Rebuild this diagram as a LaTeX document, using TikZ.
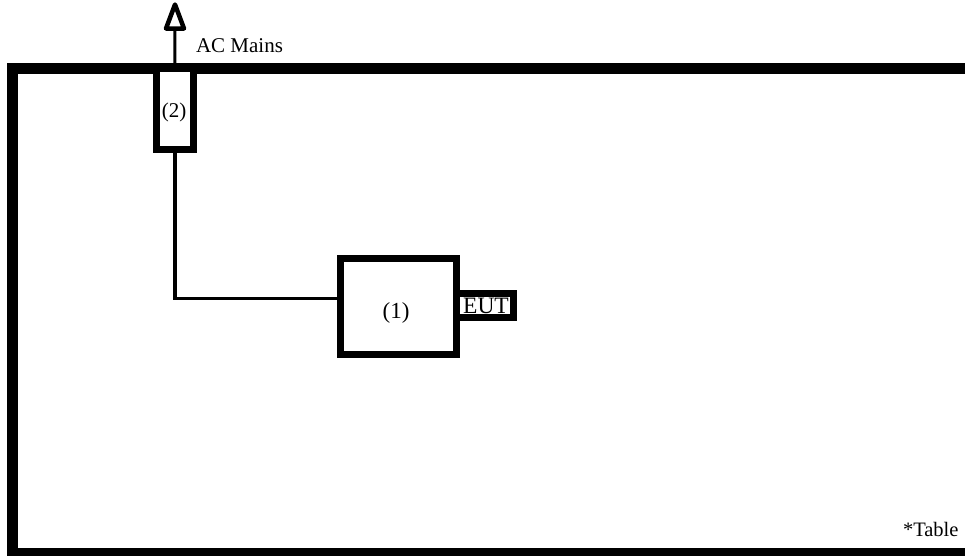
\documentclass[tikz,border=0pt]{standalone}
\usepackage{fontspec}
\setmainfont{Liberation Serif}
\begin{document}
\begin{tikzpicture}[x=1pt,y=-1pt,
  boxthick/.style={draw=black, fill=white, line width=7pt, inner sep=0pt, outer sep=0pt, line join=miter},
  wire/.style={draw=black, line width=3.5pt},
  lbl/.style={inner sep=0pt, outer sep=0pt, text=black}]
\useasboundingbox (0,0) rectangle (965,555);
\clip (0,0) rectangle (965,555);
% table frame
\draw[line width=11pt, line join=miter] (990,68.5) -- (12.5,68.5) -- (12.5,553.5) -- (990,553.5);
% boxes
\node[boxthick, minimum width=36.5pt, minimum height=80.5pt] (box2) at (174.75,108.75) {};
\node[lbl, font=\fontsize{21}{21}\selectfont] (t2) at (174,112.5) {(2)};
\node[boxthick, minimum width=57pt, minimum height=23.5pt] (eut) at (484.5,305.25) {};
\node[boxthick, minimum width=116pt, minimum height=96.5pt] (box1) at (398.5,306.25) {};
\node[lbl, font=\fontsize{23}{23}\selectfont] (t1) at (396,312.5) {(1)};
\node[lbl, font=\fontsize{23.5}{23.5}\selectfont] (teut) at (486,306) {EUT};
% connector
\draw[wire] (box2.south) |- ([yshift=8pt]box1.west);
% AC mains arrow
\coordinate (tipbase) at (175,28.5);
\draw[line width=3pt] (box2.north) -- (tipbase);
\draw[line width=4.5pt, fill=white, line join=round] (175,4.5) -- (166,28.5) -- (184,28.5) -- cycle;
\node[lbl, anchor=base west, font=\fontsize{21}{21}\selectfont] (acm) at (196,52) {AC Mains};
\node[lbl, anchor=base west, font=\fontsize{20.5}{20.5}\selectfont] (tbl) at (903,536) {*Table};
\end{tikzpicture}
\end{document}
